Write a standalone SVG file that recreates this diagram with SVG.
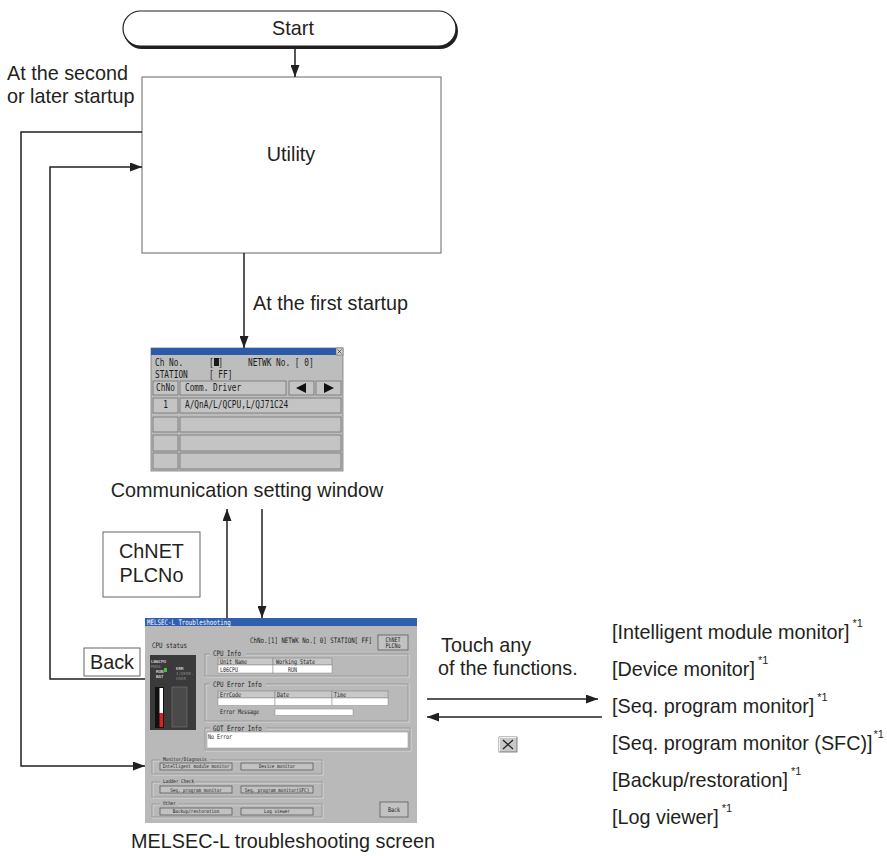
<svg xmlns="http://www.w3.org/2000/svg" width="887" height="856" viewBox="0 0 887 856">
<style>
.t{font-family:"Liberation Sans",Arial,sans-serif;font-size:19.8px;fill:#231f20}
.c{text-anchor:middle}
.box{fill:#fff;stroke:#666;stroke-width:1}
.ln{fill:none;stroke:#231f20;stroke-width:1.5}
.px{font-family:"DejaVu Sans Mono","Liberation Mono",monospace;fill:#1a1a1a}
.cell{fill:#c4c4c4;stroke:#666;stroke-width:0.7}
.btn{fill:#c2c2c2;stroke:#3a3a3a;stroke-width:0.6}
.fr{fill:none;stroke:#8c8c8c;stroke-width:0.7}
.frw{fill:none;stroke:#ececec;stroke-width:0.6}
.wb{fill:#fff;stroke:#888;stroke-width:0.5}
.hd{fill:#c8c8c8;stroke:#777;stroke-width:0.5}
</style>
<defs>
<marker id="ah" viewBox="0 0 12 9" refX="12" refY="4.5" markerWidth="12" markerHeight="9" orient="auto" markerUnits="userSpaceOnUse"><path d="M0,0L12,4.5L0,9z" fill="#231f20"/></marker>
</defs>
<rect width="887" height="856" fill="#fff"/>

<g id="start">
<rect x="124" y="13" width="334" height="36" rx="18" fill="#231f20"/>
<rect x="123" y="11" width="333" height="35" rx="17.5" fill="#fff" stroke="#231f20" stroke-width="1.2"/>
<text class="t c" x="293" y="35">Start</text>
</g>

<g id="utility">
<rect class="box" x="142" y="77" width="299" height="176"/>
<text class="t c" x="291" y="161">Utility</text>
</g>

<g id="labels">
<text class="t" x="7" y="80">At the second</text>
<text class="t" x="7" y="103">or later startup</text>
<text class="t" x="253" y="310">At the first startup</text>
<text class="t c" x="247" y="497">Communication setting window</text>
<text class="t c" x="283" y="848">MELSEC-L troubleshooting screen</text>
<text class="t" x="441" y="652">Touch any</text>
<text class="t" x="438" y="675">of the functions.</text>
</g>

<g id="comm-window">
<rect x="151" y="348" width="192" height="123" fill="#bdbdbd" stroke="#7a7a7a" stroke-width="0.8"/>
<rect x="151" y="348" width="185" height="7" fill="#2b5aa8"/>
<rect x="336" y="348" width="7" height="7" fill="#d4d4d4" stroke="#555" stroke-width="0.5"/>
<path d="M337.5,349.5L341.5,353.5M341.5,349.5L337.5,353.5" stroke="#222" stroke-width="0.7"/>
<rect x="214" y="358" width="5" height="8" fill="#1a1a1a"/>
<rect class="cell" x="153" y="381" width="25" height="14"/>
<rect class="cell" x="180" y="381" width="106" height="14"/>
<rect class="cell" x="289" y="381" width="25" height="14"/>
<rect class="cell" x="316" y="381" width="25" height="14"/>
<path d="M296,388L306,383L306,393z" fill="#111"/>
<path d="M324,383L334,388L324,393z" fill="#111"/>
<rect class="cell" x="153" y="398" width="25" height="15"/>
<rect class="cell" x="180" y="398" width="161" height="15"/>
<rect class="cell" x="153" y="417" width="25" height="15"/>
<rect class="cell" x="180" y="417" width="161" height="15"/>
<rect class="cell" x="153" y="435" width="25" height="16"/>
<rect class="cell" x="180" y="435" width="161" height="16"/>
<rect class="cell" x="153" y="453" width="25" height="16"/>
<rect class="cell" x="180" y="453" width="161" height="16"/>
<g class="px" font-size="7.8" transform="scale(1,1.35)">
<text x="155" y="271.1">Ch No.</text>
<text x="209" y="271.1">[ ]</text>
<text x="248" y="271.1">NETWK No. [  0]</text>
<text x="155" y="280">STATION</text>
<text x="209" y="280">[ FF]</text>
<text x="165.5" y="289.6" text-anchor="middle">ChNo</text>
<text x="185" y="289.6">Comm. Driver</text>
<text x="165.5" y="302.2" text-anchor="middle">1</text>
<text x="185" y="302.2">A/QnA/L/QCPU,L/QJ71C24</text>
</g>
</g>

<g id="troubleshooting-screen">
<rect x="145" y="618" width="272" height="205" fill="#b9b9b9"/>
<rect x="145" y="618" width="272" height="8" fill="#2f5fae"/>
<rect class="btn" x="378" y="635" width="30" height="15"/>
<rect x="150" y="655" width="46" height="75" fill="#3a3a3a"/>
<rect x="164" y="668" width="3" height="4" fill="#3ec43e"/>
<rect x="155" y="687" width="9" height="41" fill="#111"/>
<rect x="159.5" y="688" width="3.5" height="25" fill="#fff"/>
<rect x="159.5" y="713" width="3.5" height="14" fill="#e02020"/>
<rect x="172" y="687" width="15" height="40" fill="#4a4a4a" stroke="#777" stroke-width="0.6"/>
<rect class="frw" x="206" y="655" width="203" height="22"/>
<rect class="fr" x="205" y="654" width="203" height="22"/>
<rect class="hd" x="218" y="658" width="55" height="7"/>
<rect class="hd" x="273" y="658" width="59" height="7"/>
<rect class="wb" x="218" y="665" width="55" height="8"/>
<rect class="wb" x="273" y="665" width="59" height="8"/>
<rect class="frw" x="206" y="685" width="203" height="37"/>
<rect class="fr" x="205" y="684" width="203" height="37"/>
<rect class="hd" x="218" y="691" width="57" height="7"/>
<rect class="hd" x="275" y="691" width="57" height="7"/>
<rect class="hd" x="332" y="691" width="56" height="7"/>
<rect class="wb" x="218" y="698" width="57" height="7.5"/>
<rect class="wb" x="275" y="698" width="57" height="7.5"/>
<rect class="wb" x="332" y="698" width="56" height="7.5"/>
<rect class="wb" x="275" y="709" width="78" height="6.5"/>
<rect class="frw" x="206" y="729" width="205" height="22"/>
<rect class="fr" x="205" y="728" width="205" height="22"/>
<rect class="wb" x="207" y="732" width="201" height="16"/>
<rect class="frw" x="153" y="761" width="170" height="14"/>
<rect class="fr" x="152" y="760" width="170" height="14"/>
<rect class="frw" x="153" y="783" width="170" height="15"/>
<rect class="fr" x="152" y="782" width="170" height="15"/>
<rect class="frw" x="153" y="805" width="170" height="13"/>
<rect class="fr" x="152" y="804" width="170" height="13"/>
<rect x="210" y="651" width="36" height="5" fill="#b9b9b9"/>
<rect x="210" y="682" width="56" height="5" fill="#b9b9b9"/>
<rect x="210" y="726" width="56" height="5" fill="#b9b9b9"/>
<rect x="160" y="758" width="50" height="4" fill="#b9b9b9"/>
<rect x="160" y="780" width="35" height="4" fill="#b9b9b9"/>
<rect x="160" y="802" width="18" height="4" fill="#b9b9b9"/>
<rect class="btn" x="160" y="763" width="72" height="7"/>
<rect class="btn" x="241" y="763" width="72" height="7"/>
<rect class="btn" x="160" y="786" width="72" height="7"/>
<rect class="btn" x="241" y="786" width="72" height="7"/>
<rect class="btn" x="160" y="808" width="72" height="7"/>
<rect class="btn" x="241" y="808" width="72" height="7"/>
<rect class="btn" x="380" y="802" width="28" height="15"/>
<g class="px" font-size="5.8" transform="scale(1,1.3)">
<text x="147" y="480.8" fill="#fff">MELSEC-L Troubleshooting</text>
<text x="152" y="498.5">CPU status</text>
<text x="250" y="494.6">ChNo.[1] NETWK No.[  0] STATION[ FF]</text>
<text x="213" y="504.6">CPU Info</text>
<text x="213" y="528.5">CPU Error Info</text>
<text x="213" y="562.3">GOT Error Info</text>
</g>
<g class="px" font-size="5" transform="scale(1,1.3)">
<text x="393" y="493.8" text-anchor="middle">ChNET</text>
<text x="393" y="498.8" text-anchor="middle">PLCNo</text>
<text x="220" y="510.4">Unit Name</text>
<text x="276" y="510.4">Working State</text>
<text x="220" y="516.9">L06CPU</text>
<text x="288" y="516.9">RUN</text>
<text x="220" y="535.8">ErrCode</text>
<text x="277" y="535.8">Date</text>
<text x="334" y="535.8">Time</text>
<text x="220" y="549.6">Error Message</text>
<text x="208" y="568.5">No Error</text>
<text x="394" y="624.6" text-anchor="middle">Back</text>
</g>
<g class="px" font-size="4.2">
<text x="151" y="663" fill="#fff">L06CPU</text>
<text x="151" y="668" fill="#8a8a8a">MODE</text>
<text x="156" y="673" fill="#fff">RUN</text>
<text x="156" y="678" fill="#fff">BAT</text>
<text x="176" y="670" fill="#fff">ERR</text>
<text x="176" y="675" fill="#8a8a8a">I/OERR.</text>
<text x="176" y="680" fill="#8a8a8a">USER</text>
</g>
<g class="px" font-size="4.3" transform="scale(1,1.2)">
<text x="163" y="634.2">Monitor/Diagnosis</text>
<text x="163" y="652.5">Ladder Check</text>
<text x="163" y="670.8">Other</text>
<text x="196" y="640.4" text-anchor="middle">Intelligent module monitor</text>
<text x="277" y="640.4" text-anchor="middle">Device monitor</text>
<text x="196" y="659.6" text-anchor="middle">Seq. program monitor</text>
<text x="277" y="659.6" text-anchor="middle">Seq. program monitor(SFC)</text>
<text x="196" y="677.9" text-anchor="middle">Backup/restoration</text>
<text x="277" y="677.9" text-anchor="middle">Log viewer</text>
</g>
</g>

<g id="chnet-box">
<rect class="box" x="103" y="532" width="97" height="65"/>
<text class="t c" x="151.5" y="558">ChNET</text>
<text class="t c" x="151.5" y="582">PLCNo</text>
</g>

<g id="back-box">
<rect class="box" x="84" y="648" width="56" height="28"/>
<text class="t c" x="112" y="669">Back</text>
</g>

<g id="close-icon">
<rect x="499" y="737" width="18" height="15" fill="#c8c8c8" stroke="#6a6a6a" stroke-width="0.8"/>
<path d="M499.5,751.5V737.5H516.5" fill="none" stroke="#eee" stroke-width="1"/>
<path d="M503,740L513,749M513,740L503,749" stroke="#222" stroke-width="1.3"/>
</g>

<g id="functions">
<text class="t" x="612" y="639">[Intelligent module monitor]<tspan font-size="11" dx="3" dy="-12">*1</tspan></text>
<text class="t" x="612" y="676">[Device monitor]<tspan font-size="11" dx="3" dy="-12">*1</tspan></text>
<text class="t" x="612" y="713">[Seq. program monitor]<tspan font-size="11" dx="3" dy="-12">*1</tspan></text>
<text class="t" x="612" y="750">[Seq. program monitor (SFC)]<tspan font-size="11" dx="1" dy="-12">*1</tspan></text>
<text class="t" x="612" y="787">[Backup/restoration]<tspan font-size="11" dx="3" dy="-12">*1</tspan></text>
<text class="t" x="612" y="824">[Log viewer]<tspan font-size="11" dx="3" dy="-12">*1</tspan></text>
</g>

<g id="connectors">
<path class="ln" d="M295,49V77" marker-end="url(#ah)"/>
<path class="ln" d="M244,253V348" marker-end="url(#ah)"/>
<path class="ln" d="M227,618V509" marker-end="url(#ah)"/>
<path class="ln" d="M262,509V618" marker-end="url(#ah)"/>
<path class="ln" d="M142,132H21V766H145" marker-end="url(#ah)"/>
<path class="ln" d="M145,679H50V167H142" marker-end="url(#ah)"/>
<path class="ln" d="M427,699H598" marker-end="url(#ah)"/>
<path class="ln" d="M602,717H427" marker-end="url(#ah)"/>
</g>
</svg>
